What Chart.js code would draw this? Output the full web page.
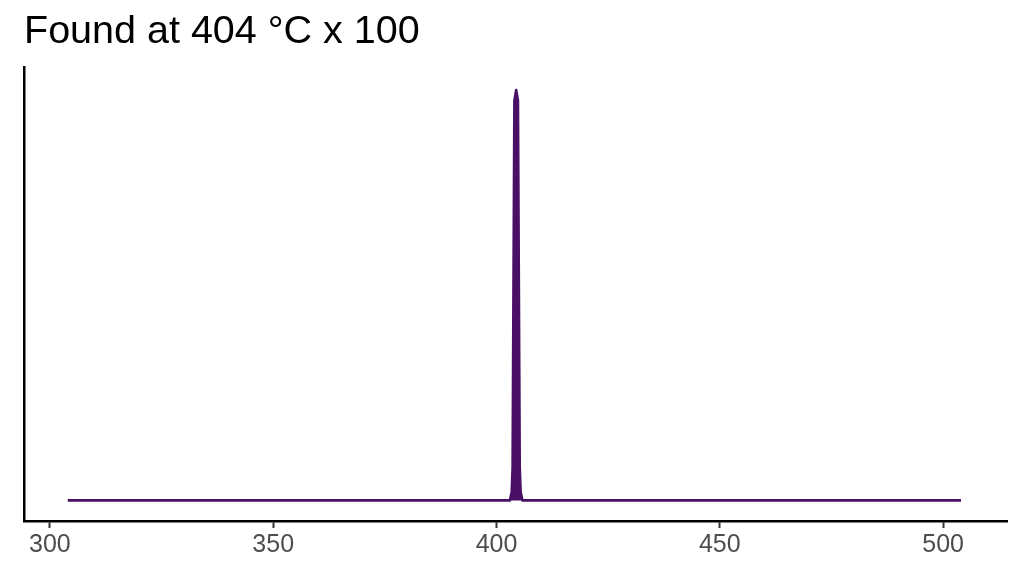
<!DOCTYPE html>
<html>
<head>
<meta charset="utf-8">
<title>Found at 404 °C x 100</title>
<script src="https://cdn.jsdelivr.net/npm/chart.js@4"></script>
<style>
  html, body { margin: 0; padding: 0; background: #ffffff; }
  #wrap { width: 1024px; height: 576px; position: relative; }
</style>
</head>
<body>
<div id="wrap"><canvas id="peakChart"></canvas></div>
<script>
// temperature (°C) and relative signal
const temps = [304, 403.0, 403.4, 403.6, 404.0, 404.4, 404.8, 405.2, 405.4, 405.8, 504];
const signal = [0, 0, 0.02, 0.08, 0.97, 0.995, 0.97, 0.08, 0.02, 0, 0];
const xTicks = [300, 350, 400, 450, 500];
const titleText = 'Found at 404 °C x 100';

const lineColor = '#4a1066';

const canvas = document.getElementById('peakChart');
const ctx = canvas.getContext('2d');

new Chart(ctx, {
    type: 'line',
    data: {
        datasets: [{
            label: 'signal',
            data: temps.map((t, i) => ({ x: t, y: signal[i] })),
            borderColor: lineColor,
            backgroundColor: lineColor,
            borderWidth: 2.6,
            borderJoinStyle: 'round',
            borderCapStyle: 'butt',
            fill: 'origin',
            tension: 0,
            pointRadius: 0,
            pointHoverRadius: 0
        }]
    },
    options: {
        responsive: true,
        maintainAspectRatio: false,
        animation: false,
        events: [],
        layout: { padding: { left: 24, right: 17, top: 0, bottom: 14 } },
        scales: {
            x: {
                type: 'linear',
                min: 294.2,
                max: 514.3,
                afterBuildTicks: (scale) => { scale.ticks = xTicks.map(v => ({ value: v })); },
                grid: { display: true, drawOnChartArea: false, drawTicks: true, tickLength: 7, tickWidth: 2, tickColor: '#333333' },
                border: { display: true, color: '#000000', width: 2.5 },
                ticks: { color: '#4d4d4d', padding: 2, font: { family: 'Liberation Sans, Arial, sans-serif', size: 25 }, maxRotation: 0, autoSkip: false }
            },
            y: {
                min: -0.05,
                max: 1.05,
                grid: { display: false, drawTicks: false },
                border: { display: true, color: '#000000', width: 2.5 },
                ticks: { display: false }
            }
        },
        plugins: {
            legend: { display: false },
            tooltip: { enabled: false },
            title: {
                display: true,
                text: titleText,
                align: 'start',
                color: '#000000',
                font: { family: 'Liberation Sans, Arial, sans-serif', size: 39.5, weight: 'normal' },
                padding: { top: 8, bottom: 12 }
            }
        }
    }
});
</script>
</body>
</html>
